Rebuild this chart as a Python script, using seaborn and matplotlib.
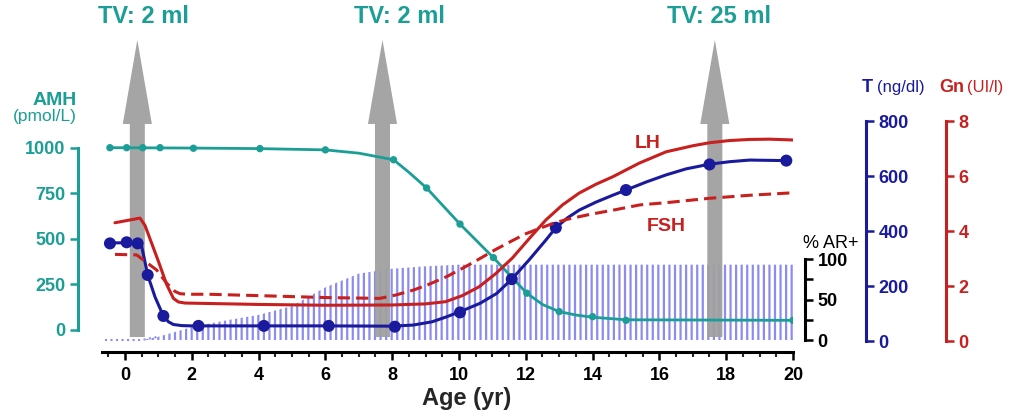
import numpy as np
import pandas as pd
import matplotlib
matplotlib.use('Agg')
import matplotlib.pyplot as plt
import seaborn as sns

# values
amh_age = [-0.45, 0.05, 0.53, 1.05, 2.05, 4.04, 6.0, 8.04, 9.03, 10.03, 11.03, 12.03, 13.0, 14.0, 15.0, 20.0]
amh_val = [1000, 1000, 1000, 1000, 997, 995, 988, 934, 779, 581, 397, 202, 101, 73, 53, 53]

# AMH fitted curve (slightly smoother than the point-to-point line)
amh_fit_age = [-0.45, 2.0, 4.0, 6.0, 7.0, 8.04, 8.5, 9.03, 10.03, 11.03, 12.03, 12.5, 13.0, 13.5, 14.0, 15.0, 20.0]
amh_fit_val = [1000, 998, 995, 988, 970, 934, 865, 779, 581, 397, 202, 140, 101, 82, 70, 56, 53]

# testosterone: measured points + fitted curve
t_age = [-0.45, 0.05, 0.38, 0.68, 1.15, 2.2, 4.16, 6.1, 8.08, 10.03, 11.58, 12.9, 15.0, 17.5, 19.8]
t_val = [355, 359, 355, 240, 91, 55, 55, 55, 52, 104, 225, 412, 549, 642, 656]
t_fit_age = [-0.45, 0.4, 0.5, 0.68, 0.9, 1.15, 1.3, 1.45, 1.7, 2.0, 4.0, 6.0, 8.0, 8.63, 9.2, 9.63, 10.1, 10.63,
             11.13, 11.58, 12.1, 12.6, 12.9, 13.25, 13.6, 14.1, 14.6, 15.0, 15.6, 16.2, 16.8, 17.5, 18.1, 18.7, 19.8]
t_fit_val = [357, 357, 345, 240, 160, 91, 70, 60, 56, 55, 55, 55, 54, 58, 70, 88, 110, 137,
             173, 225, 295, 367, 412, 448, 476, 505, 530, 549, 578, 604, 626, 643, 652, 658, 656]

lh_age = [-0.3, 0.45, 0.6, 1.0, 1.25, 1.45, 1.6, 1.8, 4, 6, 8, 9.0, 9.6, 10.1, 10.6, 11.1, 11.6, 12.1, 12.6,
          13.1, 13.6, 14.1, 14.6, 15.0, 15.4, 16.2, 17.0, 17.5, 18.1, 18.7, 19.3, 20.0]
lh_val = [4.3, 4.47, 4.2, 2.9, 2.05, 1.55, 1.42, 1.38, 1.33, 1.3, 1.31, 1.35, 1.43, 1.65, 1.97, 2.45, 3.02, 3.72, 4.4,
          4.95, 5.38, 5.7, 5.97, 6.22, 6.47, 6.88, 7.1, 7.21, 7.29, 7.33, 7.34, 7.31]

fsh_age = [-0.3, 0.35, 0.95, 1.25, 1.5, 1.65, 1.9, 2.5, 4, 6, 7.63, 8.1, 8.63, 9.1, 9.63, 10.1, 10.63, 11.1, 11.63,
           12.0, 12.43, 12.8, 13.22, 13.9, 14.62, 15.42, 16.2, 17.5, 18.7, 20.0]
fsh_val = [3.15, 3.13, 2.58, 2.1, 1.8, 1.72, 1.7, 1.7, 1.65, 1.58, 1.55, 1.67, 1.85, 2.06, 2.34, 2.64, 3.0, 3.33, 3.67,
           3.9, 4.1, 4.27, 4.42, 4.6, 4.76, 4.95, 5.03, 5.19, 5.3, 5.39]

ar_age = [-0.6, 0.5, 1, 2, 3, 4, 5, 6, 7, 8, 9, 10, 20]
ar_pct = [0, 0, 4, 16, 24, 31, 42, 65, 82, 88, 91, 93, 93]

arrow_age = [0.37, 7.71, 17.66]
tv_labels = ['TV: 2 ml', 'TV: 2 ml', 'TV: 25 ml']

teal = '#1b9e96'
blue = '#1a1a9c'
red = '#c81f1f'

sns.set_style('white')
plt.rcParams['font.family'] = ['Liberation Sans', 'DejaVu Sans']
plt.rcParams['font.weight'] = 'bold'
plt.rcParams['axes.labelweight'] = 'bold'
plt.rcParams['hatch.linewidth'] = 1.6

fig = plt.figure(figsize=(10.19, 4.19), dpi=100)
ax = fig.add_axes([0.0997, 0.1599, 0.6785, 0.7685])
ax_ar = ax.twinx()
ax_t = ax.twinx()
ax_gn = ax.twinx()

ax_ar.set_zorder(0)
ax.set_zorder(1)
ax_t.set_zorder(2)
ax_gn.set_zorder(3)
ax.patch.set_visible(False)
ax_ar.patch.set_visible(True)
ax_ar.patch.set_facecolor('white')

ax.set_xlim(-0.7, 20)
ax.set_ylim(-120.7, 1645.6)
ax_ar.set_ylim(-14.8, 382.7)
ax_t.set_ylim(-40, 1131)
ax_gn.set_ylim(-0.4, 11.31)

# % AR+ hatched area and tanner volume arrows
ax_ar.fill_between(ar_age, 0, ar_pct, facecolor='none', edgecolor='#8c8cf0',
                   hatch='|||', linewidth=0)
sns.lineplot(x=ar_age[:3], y=ar_pct[:3], ax=ax_ar, color='#8c8cf0', lw=1.5, ls=':')
for x in arrow_age:
    ax_ar.arrow(x, 3.7, 0, 366.7, width=0.45, head_width=0.87, head_length=103.7,
                length_includes_head=True, fc='#a0a0a0', ec='none', alpha=0.95, zorder=3)

sns.lineplot(x=amh_fit_age, y=amh_fit_val, ax=ax, color=teal, lw=2, solid_joinstyle='round')
sns.scatterplot(x=amh_age, y=amh_val, ax=ax, color=teal, s=28, edgecolor='none', zorder=3)
sns.lineplot(x=t_fit_age, y=t_fit_val, ax=ax_t, color=blue, lw=2.2, solid_joinstyle='round')
sns.scatterplot(x=t_age, y=t_val, ax=ax_t, color=blue, s=75, edgecolor='none', zorder=3)
sns.lineplot(x=lh_age, y=lh_val, ax=ax_gn, color=red, lw=2.2, solid_joinstyle='round')
sns.lineplot(x=fsh_age, y=fsh_val, ax=ax_gn, color=red, lw=2.2, linestyle=(0, (4, 2)))

# axes styling
for a in [ax_ar, ax_t, ax_gn]:
    for s in ['left', 'top', 'bottom']:
        a.spines[s].set_visible(False)
ax.spines['top'].set_visible(False)
ax.spines['right'].set_visible(False)

ax.spines['bottom'].set_linewidth(2.2)
ax.spines['bottom'].set_color('black')
ax.set_xticks(np.arange(0, 21, 2))
ax.set_xticks(np.arange(-0.5, 20.01, 0.5), minor=True)
ax.tick_params(axis='x', which='major', direction='out', length=6, width=1.8,
               labelsize=13, pad=5, bottom=True, colors='black')
ax.tick_params(axis='x', which='minor', direction='out', length=3.5, width=1.5, bottom=True)
ax.set_xlabel('Age (yr)', fontsize=17, va='center')
ax.xaxis.set_label_coords(0.5285, -0.143)

def style_y(a, side, pos, lo, hi, ticks, color, minor=None):
    sp = a.spines[side]
    sp.set_position(('axes', pos))
    sp.set_bounds(lo, hi)
    sp.set_color(color)
    sp.set_linewidth(2.2)
    a.set_yticks(ticks)
    if minor is not None:
        a.set_yticks(minor, minor=True)
    a.tick_params(axis='y', which='major', direction='out', length=6, width=1.8,
                  color=color, labelcolor=color, labelsize=13, pad=3)
    a.tick_params(axis='y', which='minor', direction='out', length=6, width=1.8, color=color)
    a.set_ylabel('')

style_y(ax, 'left', -0.0341, 0, 1000, [0, 250, 500, 750, 1000], teal)
ax.tick_params(axis='y', left=True)
style_y(ax_ar, 'right', 1.0173, 0, 100, [0, 50, 100], 'black', minor=[25, 75])
style_y(ax_t, 'right', 1.1056, 0, 800, [0, 200, 400, 600, 800], blue)
style_y(ax_gn, 'right', 1.2213, 0, 8, [0, 2, 4, 6, 8], red)

# text labels
for x, lab in zip([0.1403, 0.3916, 0.7056], tv_labels):
    fig.text(x, 0.960, lab, color=teal, fontsize=17, ha='center', va='center')

fig.text(0.0756, 0.761, 'AMH', color=teal, fontsize=14, ha='right', va='center')
fig.text(0.0756, 0.723, '(pmol/L)', color=teal, fontsize=12.5, fontweight='normal',
         ha='right', va='center')
fig.text(0.846, 0.792, 'T', color=blue, fontsize=13, va='center')
fig.text(0.8607, 0.792, '(ng/dl)', color=blue, fontsize=12, fontweight='normal', va='center')
fig.text(0.9215, 0.792, 'Gn', color=red, fontsize=13, va='center')
fig.text(0.9485, 0.792, '(UI/l)', color=red, fontsize=12, fontweight='normal', va='center')
fig.text(0.788, 0.42, '% AR+', color='black', fontsize=13, fontweight='normal', va='center')

ax_gn.text(15.66, 7.2, 'LH', color=red, fontsize=14, ha='center', va='center')
ax_gn.text(16.2, 4.15, 'FSH', color=red, fontsize=14, ha='center', va='center')

fig.savefig('out.png', dpi=100)
